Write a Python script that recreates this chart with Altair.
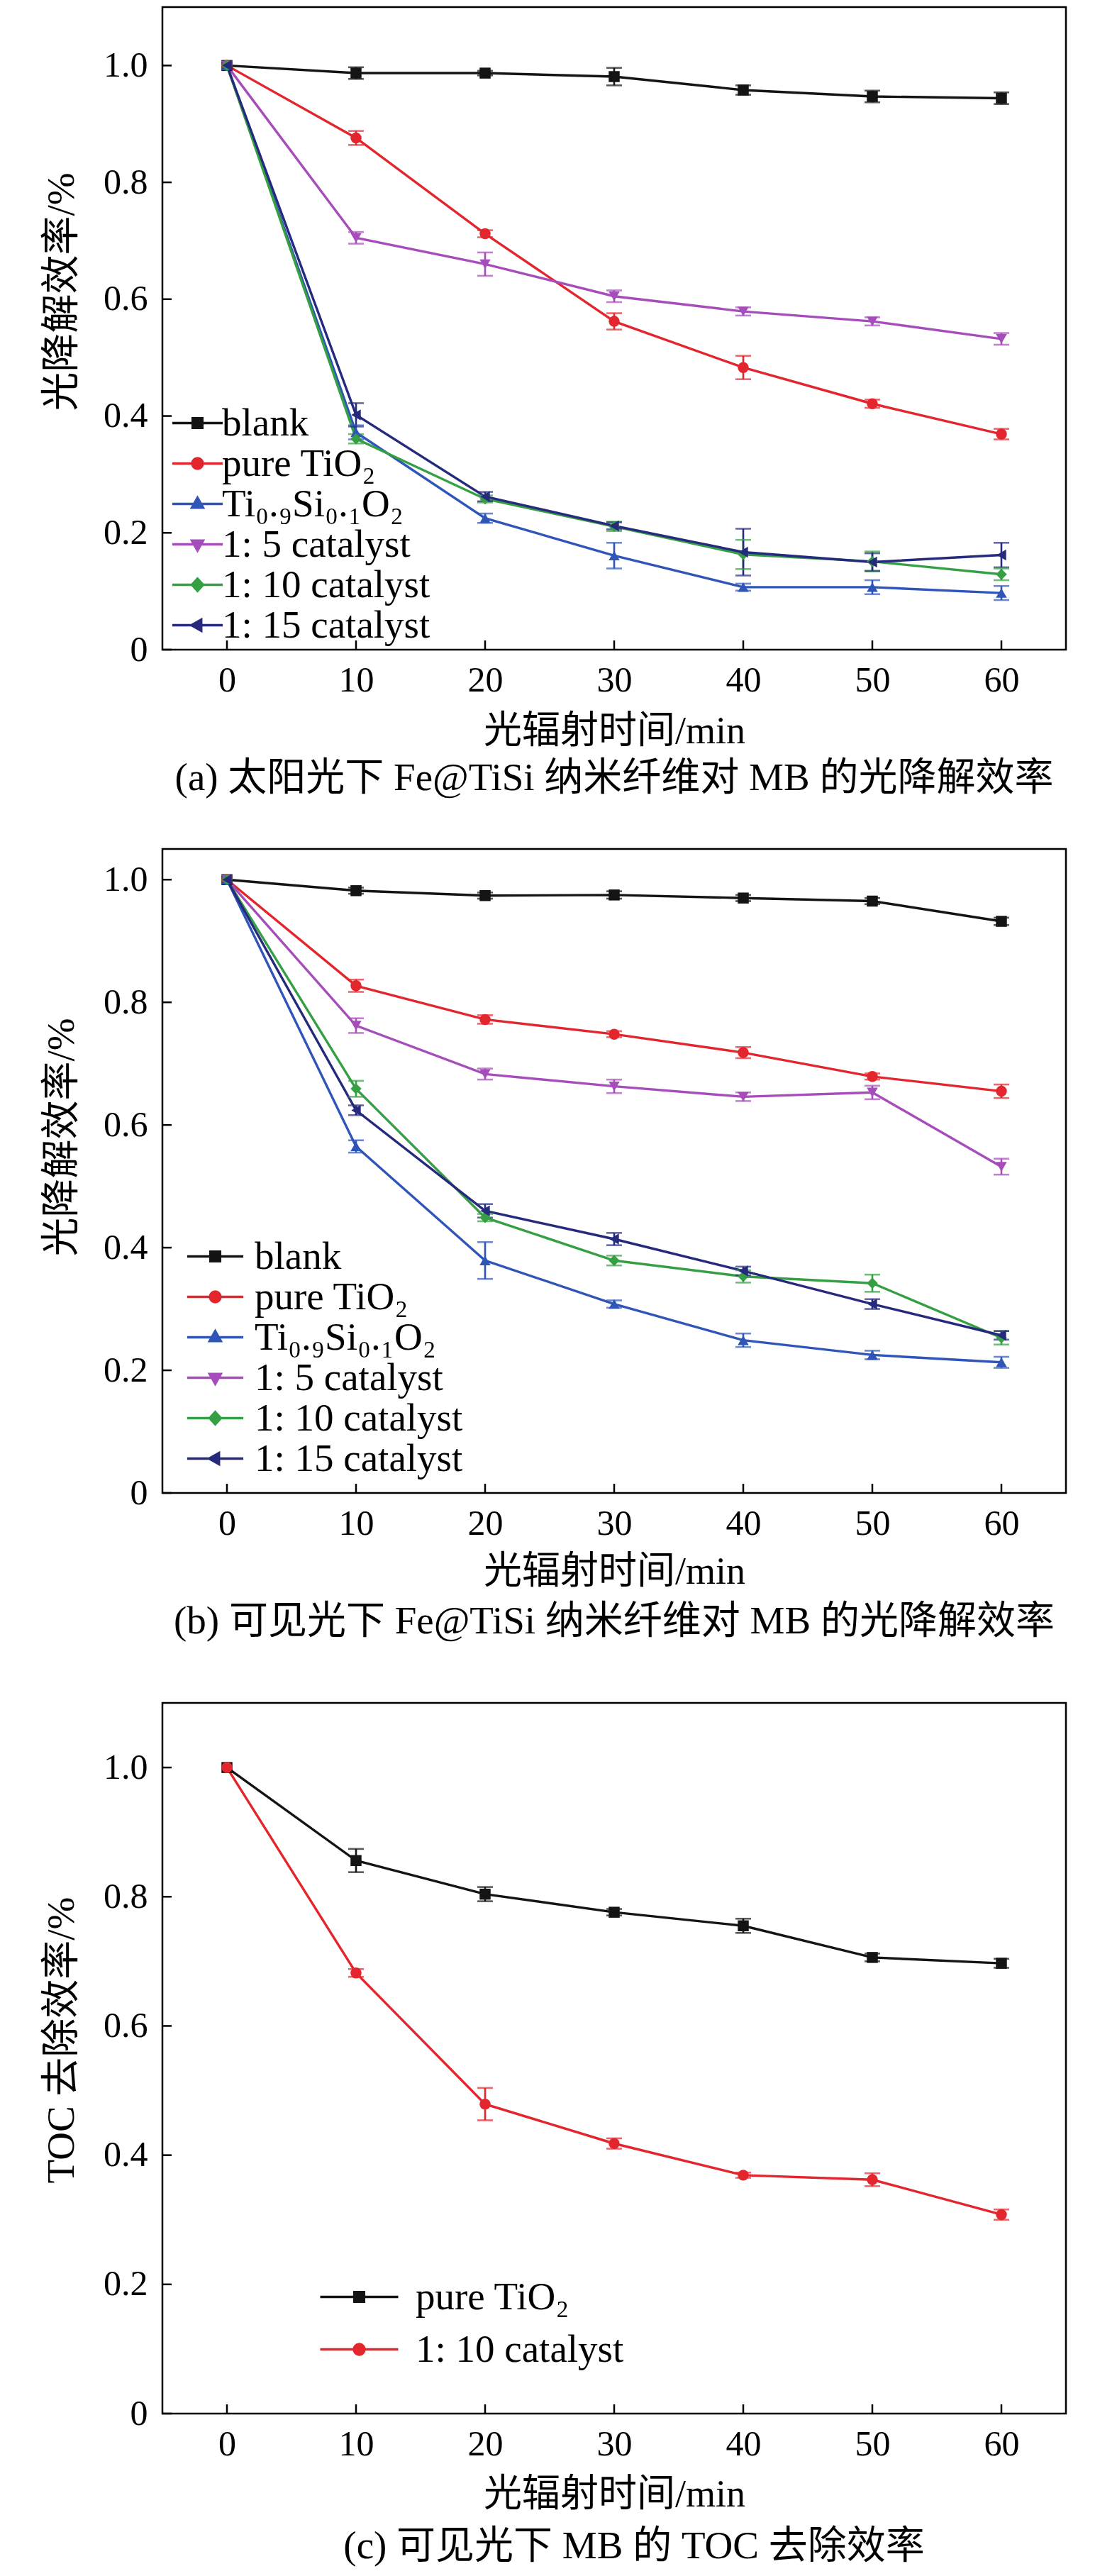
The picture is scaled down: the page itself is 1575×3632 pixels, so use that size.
import altair as alt
import pandas as pd

TIME = [0, 10, 20, 30, 40, 50, 60]
Y_TICKS = [0, 0.2, 0.4, 0.6, 0.8, 1.0]
FONT = "Liberation Serif, Noto Sans CJK SC, DejaVu Serif"

# ---------- panel (a) ----------
A_NAMES = ["blank", "pure TiO₂", "Ti₀.₉Si₀.₁O₂", "1: 5 catalyst", "1: 10 catalyst", "1: 15 catalyst"]
A_COLORS = ["#141414", "#e3262d", "#2f55b8", "#a64cbb", "#35a043", "#252a7c"]
A_SHAPES = ["square", "circle", "triangle-up", "triangle-down", "diamond", "triangle-left"]
A_BLANK = [1.0, 0.987, 0.987, 0.981, 0.958, 0.947, 0.944]
A_BLANK_ERR = [0, 0.010, 0.004, 0.015, 0.008, 0.010, 0.010]
A_TIO2 = [1.0, 0.876, 0.712, 0.562, 0.483, 0.421, 0.369]
A_TIO2_ERR = [0, 0.012, 0.006, 0.014, 0.020, 0.007, 0.009]
A_TISI = [1.0, 0.372, 0.225, 0.161, 0.107, 0.107, 0.097]
A_TISI_ERR = [0, 0.012, 0.008, 0.022, 0.006, 0.012, 0.012]
A_R5 = [1.0, 0.705, 0.660, 0.605, 0.579, 0.562, 0.532]
A_R5_ERR = [0, 0.010, 0.020, 0.010, 0.007, 0.007, 0.010]
A_R10 = [1.0, 0.361, 0.258, 0.211, 0.163, 0.151, 0.129]
A_R10_ERR = [0, 0.008, 0.006, 0.008, 0.025, 0.017, 0.010]
A_R15 = [1.0, 0.402, 0.262, 0.212, 0.167, 0.150, 0.162]
A_R15_ERR = [0, 0.020, 0.008, 0.006, 0.040, 0.015, 0.021]

# ---------- panel (b) ----------
B_NAMES = A_NAMES
B_COLORS = A_COLORS
B_SHAPES = A_SHAPES
B_BLANK = [1.0, 0.982, 0.974, 0.975, 0.970, 0.965, 0.932]
B_BLANK_ERR = [0, 0.005, 0.005, 0.006, 0.005, 0.005, 0.006]
B_TIO2 = [1.0, 0.827, 0.772, 0.748, 0.718, 0.679, 0.655]
B_TIO2_ERR = [0, 0.010, 0.007, 0.005, 0.009, 0.005, 0.011]
B_TISI = [1.0, 0.565, 0.379, 0.308, 0.249, 0.225, 0.213]
B_TISI_ERR = [0, 0.010, 0.030, 0.006, 0.011, 0.007, 0.009]
B_R5 = [1.0, 0.762, 0.683, 0.663, 0.646, 0.653, 0.532]
B_R5_ERR = [0, 0.012, 0.009, 0.011, 0.007, 0.011, 0.013]
B_R10 = [1.0, 0.659, 0.449, 0.379, 0.353, 0.342, 0.253]
B_R10_ERR = [0, 0.013, 0.006, 0.008, 0.010, 0.014, 0.011]
B_R15 = [1.0, 0.624, 0.460, 0.414, 0.362, 0.308, 0.257]
B_R15_ERR = [0, 0.008, 0.011, 0.010, 0.007, 0.008, 0.007]

# ---------- panel (c) ----------
C_NAMES = ["pure TiO₂", "1: 10 catalyst"]
C_COLORS = ["#141414", "#e3262d"]
C_SHAPES = ["square", "circle"]
C_TIO2 = [1.0, 0.856, 0.804, 0.776, 0.755, 0.706, 0.697]
C_TIO2_ERR = [0, 0.018, 0.011, 0.005, 0.011, 0.006, 0.007]
C_R10 = [1.0, 0.682, 0.479, 0.418, 0.369, 0.362, 0.308]
C_R10_ERR = [0, 0.006, 0.025, 0.008, 0.004, 0.010, 0.008]

CAP_A = "(a) 太阳光下 Fe@TiSi 纳米纤维对 MB 的光降解效率"
CAP_B = "(b) 可见光下 Fe@TiSi 纳米纤维对 MB 的光降解效率"
CAP_C = "(c) 可见光下 MB 的 TOC 去除效率"
X_TITLE = "光辐射时间/min"
Y_TITLE_AB = "光降解效率/%"
Y_TITLE_C = "TOC 去除效率/%"


def legend_paths(L, shapes):
    m = {
        "square": "M-0.34,-0.34H0.34V0.34H-0.34Z",
        "circle": "M-0.37,0A0.37,0.37 0 1,0 0.37,0A0.37,0.37 0 1,0 -0.37,0Z",
        "triangle-up": "M0,-0.43L0.39,0.26L-0.39,0.26Z",
        "triangle-down": "M0,0.43L0.39,-0.26L-0.39,-0.26Z",
        "diamond": "M0,-0.43L0.39,0L0,0.43L-0.39,0Z",
        "triangle-left": "M-0.43,0L0.26,-0.39L0.26,0.39Z",
    }
    return [f"M-{L},0H{L}" + m[s] for s in shapes]


def make_df(names, values, errs):
    rows = []
    for name, vals, es in zip(names, values, errs):
        for t, v, e in zip(TIME, vals, es):
            rows.append({"series": name, "t": t, "v": v, "lo": v - e, "hi": v + e, "e": e})
    return pd.DataFrame(rows)


def panel(df, names, colors, shapes, height, ytop, ytitle, ytitle_y, xtitle_pad,
          caption, cap_offset, cap_dx, lx, ly, half, loff, rowpad):
    xs = alt.Scale(domain=[-5, 65], nice=False, zero=False)
    ys = alt.Scale(domain=[0, ytop], nice=False, zero=False)
    cs = alt.Scale(domain=names, range=colors)
    x_axis = alt.Axis(values=TIME, format="d", labelFont=FONT, labelFontSize=50,
                      labelColor="black", labelPadding=18, ticks=False, tickSize=0,
                      domain=False, grid=False, labelFlush=False,
                      labelOverlap=False, title=X_TITLE, titleFont=FONT,
                      titleFontSize=54, titleFontWeight="normal", titleColor="black",
                      titlePadding=xtitle_pad)
    y_axis = alt.Axis(values=Y_TICKS,
                      labelExpr="datum.value == 0 ? '0' : format(datum.value, '.1f')",
                      labelFont=FONT, labelFontSize=50, labelColor="black",
                      labelPadding=21, ticks=False, tickSize=0, domain=False,
                      grid=False, labelFlush=False, labelOverlap=False,
                      title=ytitle, titleFont=FONT, titleFontSize=55,
                      titleFontWeight="normal", titleColor="black", titlePadding=30,
                      titleY=ytitle_y)
    X = alt.X("t:Q", scale=xs, axis=x_axis)
    Y = alt.Y("v:Q", scale=ys, axis=y_axis)
    col = alt.Color("series:N", scale=cs, legend=None)
    base = alt.Chart(df)

    leg = alt.Legend(title=None, orient="none", legendX=lx, legendY=ly, padding=0,
                     labelFont=FONT, labelFontSize=55, labelColor="black",
                     labelLimit=2000, symbolSize=1600, symbolStrokeWidth=3.5,
                     labelOffset=loff, rowPadding=rowpad)
    legend_layer = base.transform_filter("false").mark_point(filled=True, opacity=1).encode(
        x=X, y=Y,
        color=alt.Color("series:N", scale=cs, legend=leg),
        shape=alt.Shape("series:N", scale=alt.Scale(domain=names, range=legend_paths(half, shapes)), legend=leg),
        stroke=alt.Stroke("series:N", scale=alt.Scale(domain=names, range=colors), legend=leg),
    )

    # inward axis ticks
    xt = alt.Chart(pd.DataFrame({"t": TIME})).mark_rule(strokeWidth=2.5, color="black").encode(
        x=X, y=alt.value(height), y2=alt.value(height - 13))
    yt = alt.Chart(pd.DataFrame({"v": Y_TICKS})).mark_rule(strokeWidth=2.5, color="black").encode(
        y=Y, x=alt.value(0), x2=alt.value(13))

    lines = base.mark_line(strokeWidth=3.4).encode(x=X, y=Y, color=col)
    err = base.transform_filter("datum.e > 0")
    rules = err.mark_rule(strokeWidth=2.6).encode(
        x=X, y=alt.Y("lo:Q", scale=ys, axis=y_axis), y2="hi:Q", color=col)
    cap_lo = err.mark_tick(orient="horizontal", size=22, thickness=2.6).encode(
        x=X, y=alt.Y("lo:Q", scale=ys, axis=y_axis), color=col)
    cap_hi = err.mark_tick(orient="horizontal", size=22, thickness=2.6).encode(
        x=X, y=alt.Y("hi:Q", scale=ys, axis=y_axis), color=col)
    pts = [
        base.transform_filter(alt.datum.series == n)
        .mark_point(shape=s, filled=True, size=240, opacity=1)
        .encode(x=X, y=Y, color=col)
        for n, s in zip(names, shapes)
    ]
    return alt.layer(legend_layer, xt, yt, lines, rules, cap_lo, cap_hi, *pts).properties(
        width=1274, height=height,
        title=alt.TitleParams(text=caption, orient="bottom", anchor="middle", font=FONT,
                              fontSize=55, fontWeight="normal", color="black",
                              offset=cap_offset, dx=cap_dx),
    )


df_a = make_df(A_NAMES, [A_BLANK, A_TIO2, A_TISI, A_R5, A_R10, A_R15],
               [A_BLANK_ERR, A_TIO2_ERR, A_TISI_ERR, A_R5_ERR, A_R10_ERR, A_R15_ERR])
df_b = make_df(B_NAMES, [B_BLANK, B_TIO2, B_TISI, B_R5, B_R10, B_R15],
               [B_BLANK_ERR, B_TIO2_ERR, B_TISI_ERR, B_R5_ERR, B_R10_ERR, B_R15_ERR])
df_c = make_df(C_NAMES, [C_TIO2, C_R10], [C_TIO2_ERR, C_R10_ERR])

pa = panel(df_a, A_NAMES, A_COLORS, A_SHAPES, 906, 1.1, Y_TITLE_AB, 401, 20,
           CAP_A, 13, 0, 22, 559, 1.78, 7, 1)
pb = panel(df_b, B_NAMES, B_COLORS, B_SHAPES, 908, 1.05, Y_TITLE_AB, 406, 16,
           CAP_B, 17, 0, 47, 547, 1.98, 28, 1)
pc = panel(df_c, C_NAMES, C_COLORS, C_SHAPES, 1002, 1.1, Y_TITLE_C, 475, 19,
           CAP_C, 20, 28, 250, 810, 2.75, 52, 18)

RES = dict(color="independent", shape="independent", stroke="independent")
top = alt.vconcat(pa, pb, spacing=68).resolve_scale(**RES).resolve_legend(**RES)
chart = alt.vconcat(top, pc, spacing=83).resolve_scale(**RES).resolve_legend(**RES).properties(
    padding={"left": 50, "top": 0, "right": 5, "bottom": 5},
    background="white",
).configure_view(stroke="black", strokeWidth=2.5)

chart.save("out.html", embed_options={"renderer": "svg", "actions": False})
